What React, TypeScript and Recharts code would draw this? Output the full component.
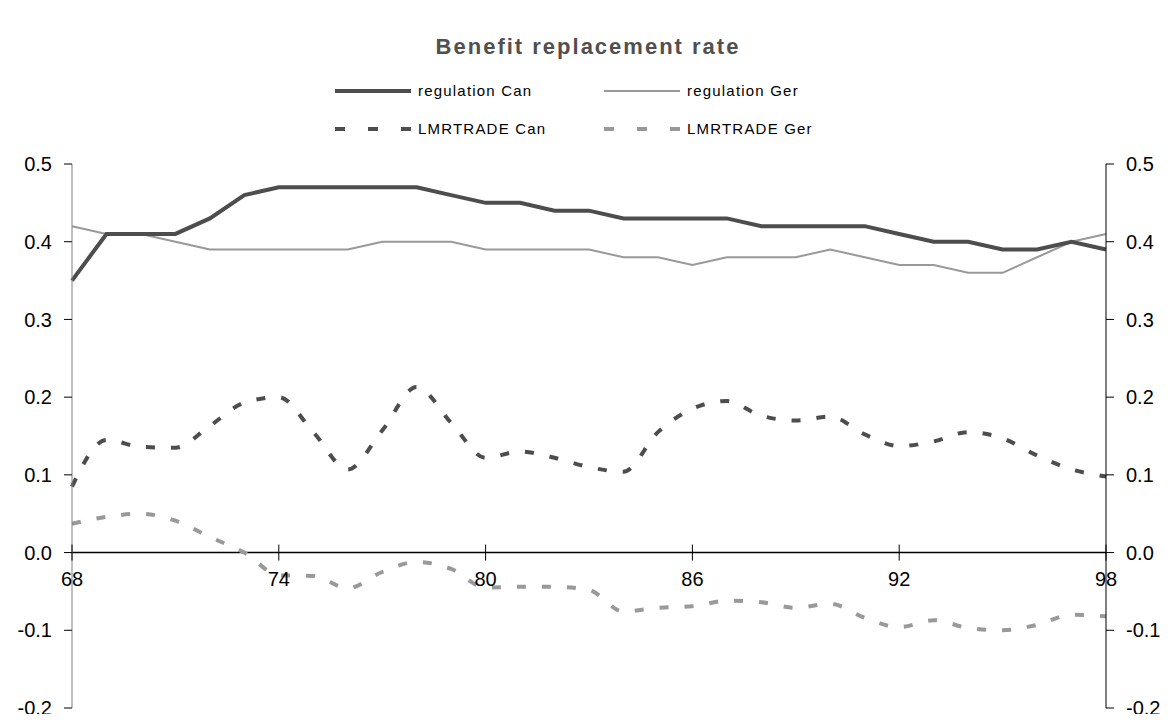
import React from 'react';
import { LineChart, Line, XAxis, YAxis, ReferenceLine } from 'recharts';

const years = [68, 69, 70, 71, 72, 73, 74, 75, 76, 77, 78, 79, 80, 81, 82, 83, 84, 85, 86, 87, 88, 89, 90, 91, 92, 93, 94, 95, 96, 97, 98];
const regulationCan = [0.35, 0.41, 0.41, 0.41, 0.43, 0.46, 0.47, 0.47, 0.47, 0.47, 0.47, 0.46, 0.45, 0.45, 0.44, 0.44, 0.43, 0.43, 0.43, 0.43, 0.42, 0.42, 0.42, 0.42, 0.41, 0.40, 0.40, 0.39, 0.39, 0.40, 0.39];
const regulationGer = [0.42, 0.41, 0.41, 0.40, 0.39, 0.39, 0.39, 0.39, 0.39, 0.40, 0.40, 0.40, 0.39, 0.39, 0.39, 0.39, 0.38, 0.38, 0.37, 0.38, 0.38, 0.38, 0.39, 0.38, 0.37, 0.37, 0.36, 0.36, 0.38, 0.40, 0.41];
const lmrtradeCan = [0.085, 0.145, 0.136, 0.135, 0.163, 0.193, 0.2, 0.155, 0.107, 0.157, 0.213, 0.167, 0.122, 0.13, 0.122, 0.11, 0.104, 0.155, 0.185, 0.195, 0.176, 0.17, 0.175, 0.152, 0.137, 0.143, 0.155, 0.147, 0.125, 0.107, 0.098];
const lmrtradeGer = [0.037, 0.046, 0.05, 0.041, 0.02, 0.0, -0.029, -0.03, -0.046, -0.025, -0.012, -0.021, -0.045, -0.044, -0.044, -0.048, -0.076, -0.071, -0.069, -0.062, -0.064, -0.071, -0.066, -0.084, -0.096, -0.087, -0.097, -0.1, -0.093, -0.08, -0.082];
const xTicks = [68, 74, 80, 86, 92, 98];
const yTicks = [-0.2, -0.1, 0, 0.1, 0.2, 0.3, 0.4, 0.5];

const W = 1176;
const H = 722;
const TOP = 164;
const BOTTOM = 708;
const Y_MIN = -0.2;
const Y_MAX = 0.5;
const Y_ZERO = TOP + ((Y_MAX - 0) / (Y_MAX - Y_MIN)) * (BOTTOM - TOP);

const DARK = '#4d4d4d';
const LIGHT = '#999999';
const DASH = '9 16';
const FONT = '"Liberation Sans", Arial, sans-serif';

const data = years.map((y, i) => ({
  year: y,
  regCan: regulationCan[i],
  regGer: regulationGer[i],
  lmrCan: lmrtradeCan[i],
  lmrGer: lmrtradeGer[i],
}));

function XTick(props: any) {
  const { x, payload } = props;
  return (
    <g>
      <line x1={x} x2={x} y1={Y_ZERO - 8} y2={Y_ZERO + 8} stroke="#000" />
      <text x={x} y={Y_ZERO + 33} textAnchor="middle" fontSize={20} fill="#000" fontFamily={FONT}>
        {payload.value}
      </text>
    </g>
  );
}

const legendItems = [
  { label: 'regulation Can', color: DARK, width: 4, dash: undefined, x: 335, y: 91 },
  { label: 'regulation Ger', color: LIGHT, width: 2, dash: undefined, x: 604, y: 91 },
  { label: 'LMRTRADE Can', color: DARK, width: 4, dash: '10 23', x: 335, y: 129 },
  { label: 'LMRTRADE Ger', color: LIGHT, width: 4, dash: '10 23', x: 604, y: 129 },
];

export default function App() {
  return (
    <div style={{ position: 'relative', width: W, height: H, margin: -8, background: '#fff', fontFamily: FONT }}>
      <svg width={W} height={H} style={{ position: 'absolute', left: 0, top: 0 }}>
        <text x={588} y={54} textAnchor="middle" fontSize={22} fontWeight="bold" fill="#505050" letterSpacing={2} fontFamily={FONT}>
          Benefit replacement rate
        </text>
        {legendItems.map((it) => (
          <g key={it.label}>
            <line x1={it.x} x2={it.x + 76} y1={it.y} y2={it.y} stroke={it.color} strokeWidth={it.width} strokeDasharray={it.dash} />
            <text x={it.x + 83} y={it.y + 5} fontSize={15} letterSpacing={1.2} fill="#000" fontFamily={FONT}>
              {it.label}
            </text>
          </g>
        ))}
      </svg>
      <div style={{ position: 'absolute', left: 0, top: 0 }}>
        <LineChart width={W} height={H} data={data} margin={{ top: TOP, right: 0, bottom: H - BOTTOM - 1, left: 0 }}>
          <XAxis
            dataKey="year"
            type="number"
            domain={[68, 98]}
            ticks={xTicks}
            interval={0}
            axisLine={false}
            tickLine={false}
            height={1}
            tick={<XTick />}
          />
          <YAxis
            yAxisId="left"
            domain={[Y_MIN, Y_MAX]}
            ticks={yTicks}
            width={72}
            tickSize={8}
            tickMargin={12}
            axisLine={{ stroke: '#808080' }}
            tickLine={{ stroke: '#000' }}
            tick={{ fontSize: 20, fill: '#000', fontFamily: FONT }}
            tickFormatter={(v: number) => v.toFixed(1)}
          />
          <YAxis
            yAxisId="right"
            orientation="right"
            domain={[Y_MIN, Y_MAX]}
            ticks={yTicks}
            width={70}
            tickSize={8}
            tickMargin={12}
            axisLine={{ stroke: '#000' }}
            tickLine={{ stroke: '#000' }}
            tick={{ fontSize: 20, fill: '#000', fontFamily: FONT }}
            tickFormatter={(v: number) => v.toFixed(1)}
          />
          <ReferenceLine yAxisId="left" y={0} stroke="#000" strokeWidth={1.5} />
          <Line yAxisId="left" dataKey="regGer" type="linear" stroke={LIGHT} strokeWidth={2} dot={false} isAnimationActive={false} />
          <Line yAxisId="left" dataKey="regCan" type="linear" stroke={DARK} strokeWidth={4} dot={false} isAnimationActive={false} />
          <Line yAxisId="right" dataKey="lmrGer" type="monotone" stroke={LIGHT} strokeWidth={4} strokeDasharray={DASH} dot={false} isAnimationActive={false} />
          <Line yAxisId="right" dataKey="lmrCan" type="monotone" stroke={DARK} strokeWidth={4} strokeDasharray={DASH} dot={false} isAnimationActive={false} />
        </LineChart>
      </div>
    </div>
  );
}
